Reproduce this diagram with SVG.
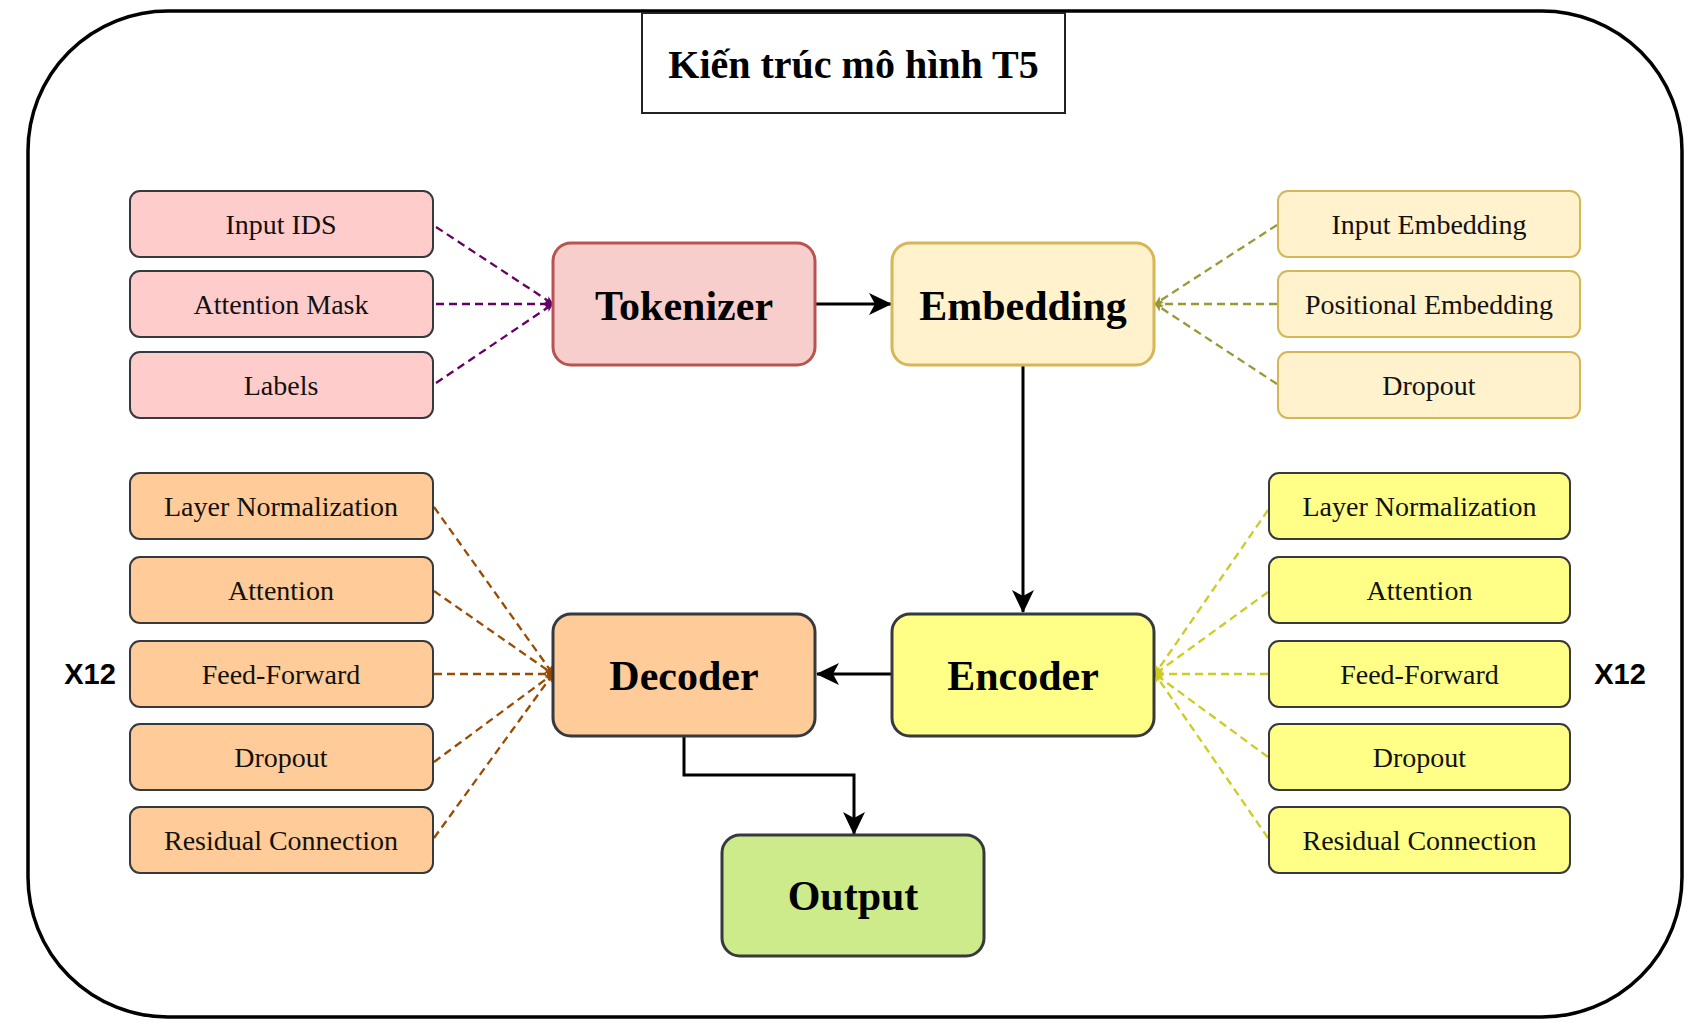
<svg xmlns="http://www.w3.org/2000/svg" width="1697" height="1031" viewBox="0 0 1697 1031">
<defs>
<style>
.t{font-family:"Liberation Serif","Times New Roman",serif;font-size:28px;fill:#111;text-anchor:middle}
.big{font-family:"Liberation Serif","Times New Roman",serif;font-size:42px;font-weight:bold;fill:#000;text-anchor:middle}
.x12{font-family:"Liberation Sans",Arial,sans-serif;font-size:29px;font-weight:bold;fill:#000;text-anchor:middle}
.sm{stroke-width:2}
.pink{fill:#ffcccc;stroke:#36393d}
.cream{fill:#fff2cc;stroke:#d6b656}
.orange{fill:#ffcc99;stroke:#36393d}
.yellow{fill:#ffff88;stroke:#36393d}
.main{stroke-width:3}
.arrow{fill:none;stroke:#000;stroke-width:3}
.dash{fill:none;stroke-width:2.3;stroke-dasharray:8 5}
</style>
<marker id="ah" markerUnits="userSpaceOnUse" markerWidth="24" markerHeight="24" refX="22" refY="11" orient="auto" viewBox="0 0 24 24">
<path d="M0,0 L23,11 L0,22 L6,11 Z" fill="#000"/>
</marker>
<marker id="mp" markerUnits="userSpaceOnUse" markerWidth="10" markerHeight="10" refX="8" refY="4" orient="auto" viewBox="0 0 10 10">
<path d="M0,0 L8,4 L0,8 L2,4 Z" fill="#660066"/>
</marker>
<marker id="mo" markerUnits="userSpaceOnUse" markerWidth="10" markerHeight="10" refX="8" refY="4" orient="auto" viewBox="0 0 10 10">
<path d="M0,0 L8,4 L0,8 L2,4 Z" fill="#999933"/>
</marker>
<marker id="my" markerUnits="userSpaceOnUse" markerWidth="10" markerHeight="10" refX="8" refY="4" orient="auto" viewBox="0 0 10 10">
<path d="M0,0 L8,4 L0,8 L2,4 Z" fill="#cccc22"/>
</marker>
<marker id="mb" markerUnits="userSpaceOnUse" markerWidth="10" markerHeight="10" refX="8" refY="4" orient="auto" viewBox="0 0 10 10">
<path d="M0,0 L8,4 L0,8 L2,4 Z" fill="#994c00"/>
</marker>
</defs>
<rect width="1697" height="1031" fill="#ffffff"/>
<rect id="frame" x="28" y="11" width="1654" height="1006" rx="140" ry="140" fill="none" stroke="#000" stroke-width="3.5"/>
<g id="title">
<rect x="642" y="13" width="423" height="100" fill="#fff" stroke="#222" stroke-width="2"/>
<text x="853.5" y="78" style="font-family:'Liberation Serif','Times New Roman',serif;font-size:40px;font-weight:bold;text-anchor:middle" fill="#000">Kiến trúc mô hình T5</text>
</g>
<g id="connectors">
<path class="dash" stroke="#660066" marker-end="url(#mp)" d="M436,227 L553,304"/>
<path class="dash" stroke="#660066" marker-end="url(#mp)" d="M436,304 L553,304"/>
<path class="dash" stroke="#660066" marker-end="url(#mp)" d="M436,383 L553,304"/>
<path class="dash" stroke="#999933" marker-end="url(#mo)" d="M1277,225 L1155,304"/>
<path class="dash" stroke="#999933" marker-end="url(#mo)" d="M1277,304 L1155,304"/>
<path class="dash" stroke="#999933" marker-end="url(#mo)" d="M1277,384 L1155,304"/>
<path class="dash" stroke="#994c00" marker-end="url(#mb)" d="M434,507 L553,674"/>
<path class="dash" stroke="#994c00" marker-end="url(#mb)" d="M434,591 L553,674"/>
<path class="dash" stroke="#994c00" marker-end="url(#mb)" d="M434,674 L553,674"/>
<path class="dash" stroke="#994c00" marker-end="url(#mb)" d="M434,762 L553,674"/>
<path class="dash" stroke="#994c00" marker-end="url(#mb)" d="M434,838 L553,674"/>
<path class="dash" stroke="#cccc22" marker-end="url(#my)" d="M1268,510 L1155,674"/>
<path class="dash" stroke="#cccc22" marker-end="url(#my)" d="M1268,592 L1155,674"/>
<path class="dash" stroke="#cccc22" marker-end="url(#my)" d="M1268,674 L1155,674"/>
<path class="dash" stroke="#cccc22" marker-end="url(#my)" d="M1268,757 L1155,674"/>
<path class="dash" stroke="#cccc22" marker-end="url(#my)" d="M1268,838 L1155,674"/>
<path class="arrow" marker-end="url(#ah)" d="M815,304 L891,304"/>
<path class="arrow" marker-end="url(#ah)" d="M1023,366 L1023,612"/>
<path class="arrow" marker-end="url(#ah)" d="M892,674 L817,674"/>
<path class="arrow" marker-end="url(#ah)" d="M684,736 L684,775 L854,775 L854,834"/>
</g>
<g id="input-ids"><rect class="pink sm" x="130" y="191" width="303" height="66" rx="10"/><text class="t" x="281" y="234">Input IDS</text></g>
<g id="attention-mask"><rect class="pink sm" x="130" y="271" width="303" height="66" rx="10"/><text class="t" x="281" y="314">Attention Mask</text></g>
<g id="labels"><rect class="pink sm" x="130" y="352" width="303" height="66" rx="10"/><text class="t" x="281" y="395">Labels</text></g>
<g id="tokenizer"><rect class="main" x="553" y="243" width="262" height="122" rx="18" fill="#f8cecc" stroke="#b85450"/><text class="big" x="684" y="320">Tokenizer</text></g>
<g id="embedding"><rect class="main" x="892" y="243" width="262" height="122" rx="18" fill="#fff2cc" stroke="#d6b656"/><text class="big" x="1023" y="320">Embedding</text></g>
<g id="input-embedding"><rect class="cream sm" x="1278" y="191" width="302" height="66" rx="10"/><text class="t" x="1429" y="234">Input Embedding</text></g>
<g id="positional-embedding"><rect class="cream sm" x="1278" y="271" width="302" height="66" rx="10"/><text class="t" x="1429" y="314">Positional Embedding</text></g>
<g id="dropout-emb"><rect class="cream sm" x="1278" y="352" width="302" height="66" rx="10"/><text class="t" x="1429" y="395">Dropout</text></g>
<g id="dec-layernorm"><rect class="orange sm" x="130" y="473" width="303" height="66" rx="10"/><text class="t" x="281" y="516">Layer Normalization</text></g>
<g id="dec-attention"><rect class="orange sm" x="130" y="557" width="303" height="66" rx="10"/><text class="t" x="281" y="600">Attention</text></g>
<g id="dec-ff"><rect class="orange sm" x="130" y="641" width="303" height="66" rx="10"/><text class="t" x="281" y="684">Feed-Forward</text></g>
<g id="dec-dropout"><rect class="orange sm" x="130" y="724" width="303" height="66" rx="10"/><text class="t" x="281" y="767">Dropout</text></g>
<g id="dec-residual"><rect class="orange sm" x="130" y="807" width="303" height="66" rx="10"/><text class="t" x="281" y="850">Residual Connection</text></g>
<g id="decoder"><rect class="main orange" x="553" y="614" width="262" height="122" rx="18"/><text class="big" x="684" y="690">Decoder</text></g>
<g id="encoder"><rect class="main yellow" x="892" y="614" width="262" height="122" rx="18"/><text class="big" x="1023" y="690">Encoder</text></g>
<g id="output"><rect class="main" x="722" y="835" width="262" height="121" rx="18" fill="#cdeb8b" stroke="#36393d"/><text class="big" x="853" y="910">Output</text></g>
<g id="enc-layernorm"><rect class="yellow sm" x="1269" y="473" width="301" height="66" rx="10"/><text class="t" x="1419.5" y="516">Layer Normalization</text></g>
<g id="enc-attention"><rect class="yellow sm" x="1269" y="557" width="301" height="66" rx="10"/><text class="t" x="1419.5" y="600">Attention</text></g>
<g id="enc-ff"><rect class="yellow sm" x="1269" y="641" width="301" height="66" rx="10"/><text class="t" x="1419.5" y="684">Feed-Forward</text></g>
<g id="enc-dropout"><rect class="yellow sm" x="1269" y="724" width="301" height="66" rx="10"/><text class="t" x="1419.5" y="767">Dropout</text></g>
<g id="enc-residual"><rect class="yellow sm" x="1269" y="807" width="301" height="66" rx="10"/><text class="t" x="1419.5" y="850">Residual Connection</text></g>
<g id="x12-left"><text class="x12" x="90" y="684">X12</text></g>
<g id="x12-right"><text class="x12" x="1620" y="684">X12</text></g>
</svg>
